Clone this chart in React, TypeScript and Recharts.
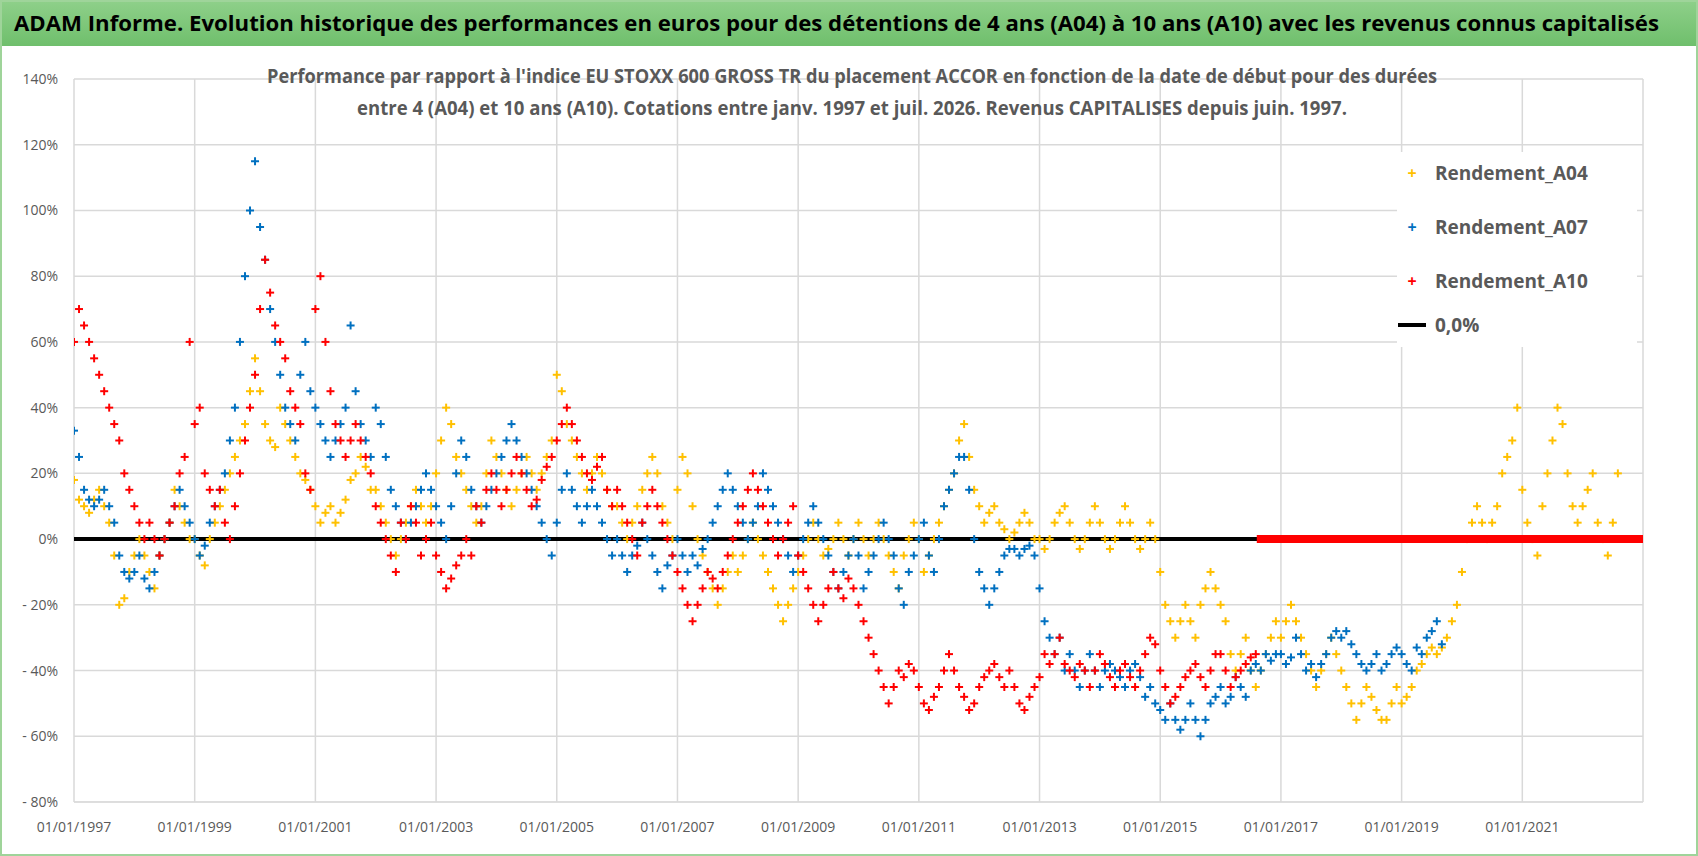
import React from "react";
import {
  ScatterChart,
  Scatter,
  XAxis,
  YAxis,
  CartesianGrid,
  ReferenceLine,
} from "recharts";

const YELLOW = "#ffc000";
const BLUE = "#0070c0";
const RED = "#ff0000";
const GREY = "#595959";

// monthly readings (%) starting Jan 1997
const a04Values = [
  18, 12, 10, 8, 12, 15, 10, 5, -5, -20, -18, -10,
  -5, 0, -5, -10, -15, -5, 0, 5, 15, 10, 5, 0,
  0, -5, -8, 0, 5, 10, 15, 20, 25, 30, 35, 45,
  55, 45, 35, 30, 28, 40, 35, 30, 25, 20, 18, 15,
  10, 5, 8, 10, 5, 8, 12, 18, 20, 25, 22, 15,
  15, 10, 5, 0, -5, 0, 5, 10, 15, 10, 5, 10,
  20, 30, 40, 35, 25, 20, 15, 10, 5, 10, 20, 30,
  25, 20, 15, 10, 15, 20, 25, 20, 15, 20, 25, 30,
  50, 45, 35, 30, 25, 20, 15, 20, 25, 20, 15, 10,
  10, 5, 0, 5, 10, 15, 20, 25, 20, 10, 5, 0,
  15, 25, 20, 10, 0, -5, -10, -15, -20, -15, -10, -5,
  -10, -5, 0, 5, 0, -5, -10, -15, -20, -25, -20, -15,
  -10, -5, 0, 5, 0, -5, -3, 0, 5, 0, -5, 0,
  5, 0, -5, 0, 5, 0, -5, -10, -15, -5, 0, 5,
  0, -10, -5, 0, 5, 10, 15, 20, 30, 35, 25, 15,
  10, 5, 8, 10, 5, 3, 0, 2, 5, 8, 5, 0,
  0, -3, 0, 5, 8, 10, 5, 0, -3, 0, 5, 10,
  5, 0, -3, 0, 5, 10, 5, 0, -3, 0, 5, 0,
  -10, -20, -25, -30, -25, -20, -25, -30, -20, -15, -10, -15,
  -20, -25, -35, -40, -35, -30, -40, -45, -40, -35, -30, -25,
  -30, -25, -20, -25, -30, -35, -40, -45, -40, -35, -30, -35,
  -40, -45, -50, -55, -50, -45, -48, -52, -55, -55, -50, -45,
  -50, -48, -45, -40, -38, -35, -33, -35, -33, -30, -25, -20,
  -10, 0, 5, 10, 5, 0, 5, 10, 20, 25, 30, 40,
  15, 5, 0, -5, 10, 20, 30, 40, 35, 20, 10, 5,
  10, 15, 20, 5, 0, -5, 5, 20,
];

const a07Values = [
  33, 25, 15, 12, 10, 12, 15, 10, 5, -5, -10, -12,
  -10, -5, -12, -15, -10, -5, 0, 5, 10, 15, 10, 5,
  0, -5, -2, 5, 10, 15, 20, 30, 40, 60, 80, 100,
  115, 95, 85, 70, 60, 50, 40, 35, 30, 50, 60, 45,
  40, 35, 30, 25, 30, 35, 40, 65, 45, 35, 30, 25,
  40, 35, 25, 15, 10, 5, 0, 5, 10, 15, 20, 15,
  10, 5, 0, 10, 20, 30, 25, 15, 10, 5, 10, 15,
  20, 25, 30, 35, 30, 25, 20, 15, 10, 5, 0, -5,
  5, 15, 20, 15, 10, 5, 10, 15, 10, 5, 0, -5,
  0, -5, -10, -5, -2, 5, 0, -5, -10, -15, -8, -5,
  0, -5, -10, -5, -8, -3, 0, 5, 10, 15, 20, 15,
  10, 5, 0, 5, 10, 20, 15, 10, 5, 0, -5, -10,
  -5, 0, 5, 10, 5, 0, -5, -10, -15, -10, -5, 0,
  -5, -15, -10, -5, 0, 5, 0, -5, -15, -20, -10, -5,
  0, 5, -5, -10, 0, 10, 15, 20, 25, 25, 15, 0,
  -10, -15, -20, -15, -10, -5, -3, -3, -5, -3, -2, -5,
  -15, -25, -30, -35, -30, -40, -35, -40, -45, -40, -35, -40,
  -45, -40, -38, -40, -42, -45, -40, -38, -42, -48, -45, -50,
  -52, -55, -50, -55, -58, -55, -50, -55, -60, -55, -50, -48,
  -45, -50, -48, -42, -45, -48, -40, -38, -40, -35, -37, -35,
  -35, -38, -36, -30, -35, -40, -38, -42, -38, -35, -30, -28,
  -30, -28, -32, -35, -38, -40, -38, -35, -40, -38, -35, -33,
  -35, -38, -40, -33, -35, -30, -28, -25, -32,
];

const a10Values = [
  60, 70, 65, 60, 55, 50, 45, 40, 35, 30, 20, 15,
  10, 5, 0, 5, 0, -5, 0, 5, 10, 20, 25, 60,
  35, 40, 20, 15, 10, 15, 5, 0, 10, 20, 30, 40,
  50, 70, 85, 75, 65, 60, 55, 45, 40, 35, 20, 15,
  70, 80, 60, 45, 35, 30, 25, 30, 35, 30, 25, 20,
  10, 5, 0, -5, -10, 5, 0, 10, 5, -5, 0, 5,
  -5, -10, -15, -12, -8, -5, 0, -5, 10, 5, 15, 20,
  15, 10, 15, 20, 25, 20, 15, 10, 12, 18, 22, 25,
  30, 35, 40, 35, 30, 25, 20, 18, 22, 25, 15, 10,
  15, 10, 5, 0, -5, 5, 10, 15, 10, 5, 0, -5,
  -10, -15, -20, -25, -20, -15, -10, -12, -15, -10, -5, 0,
  5, 10, 15, 20, 15, 10, 5, 0, -5, 0, 5, 10,
  -5, -10, -15, -20, -25, -20, -15, -10, -15, -18, -12, -15,
  -20, -25, -30, -35, -40, -45, -50, -45, -40, -42, -38, -40,
  -45, -50, -52, -48, -45, -40, -35, -40, -45, -48, -52, -50,
  -45, -42, -40, -38, -42, -45, -40, -45, -50, -52, -48, -45,
  -42, -35, -38, -35, -30, -38, -40, -42, -38, -40, -45, -40,
  -35, -38, -42, -45, -40, -38, -42, -45, -40, -35, -30, -32,
  -40, -45, -50, -48, -45, -42, -40, -38, -42, -45, -40, -35,
  -35, -40, -45, -42, -40, -38, -36, -35,
];

// A10 is pinned at 0 once the 10-year window runs past the last quote
const a10Flat = [
  { x: 2016.6, y: 0 },
  { x: 2023, y: 0 },
];

const START_YEAR = 1997;
const xTicks = [1997, 1999, 2001, 2003, 2005, 2007, 2009, 2011, 2013, 2015, 2017, 2019, 2021];
const yTicks = [-80, -60, -40, -20, 0, 20, 40, 60, 80, 100, 120, 140];

const toPoints = (vals: number[]) => vals.map((v, i) => ({ x: START_YEAR + i / 12, y: v }));

const Cross = (color: string) => (props: any) => {
  const { cx, cy } = props;
  if (cx == null || cy == null) return null;
  return (
    <g stroke={color} strokeWidth={2}>
      <line x1={cx - 4} y1={cy} x2={cx + 4} y2={cy} />
      <line x1={cx} y1={cy - 4} x2={cx} y2={cy + 4} />
    </g>
  );
};

const fmtPct = (v: number) => (v < 0 ? `- ${Math.abs(v)}%` : `${v}%`);

function LegendRow({ color, label, top, line }: { color: string; label: string; top: number; line?: boolean }) {
  return (
    <div style={{ position: "absolute", left: 0, top, display: "flex", alignItems: "center" }}>
      <span style={{ width: 30, display: "inline-flex", justifyContent: "center" }}>
        {line ? (
          <span style={{ display: "inline-block", width: 28, height: 4, background: "#000" }} />
        ) : (
          <span style={{ color, fontSize: 16, fontWeight: 700 }}>+</span>
        )}
      </span>
      <span style={{ marginLeft: 8, color: GREY, fontWeight: 700, fontSize: 19 }}>{label}</span>
    </div>
  );
}

export default function App() {
  return (
    <div
      style={{
        position: "fixed",
        left: 0,
        top: 0,
        width: 1698,
        height: 856,
        background: "#fff",
        fontFamily: "'Open Sans', Arial, sans-serif",
        boxSizing: "border-box",
        border: "2px solid #9fd49a",
        overflow: "hidden",
      }}
    >
      <svg width={1698} height={46} style={{ position: "absolute", left: -2, top: -2 }}>
        <defs>
          <linearGradient id="tg" x1="0" y1="0" x2="0" y2="1">
            <stop offset="0" stopColor="#8fd08a" />
            <stop offset="1" stopColor="#6fbf6c" />
          </linearGradient>
        </defs>
        <rect x={0} y={0} width={1698} height={46} fill="url(#tg)" />
        <text
          x={14}
          y={31}
          fontSize={21}
          fontWeight={700}
          fill="#000"
          textLength={1645}
          lengthAdjust="spacingAndGlyphs"
          fontFamily="'Open Sans', Arial, sans-serif"
        >
          ADAM Informe. Evolution historique des performances en euros pour des détentions de 4 ans (A04) à 10 ans (A10) avec les revenus connus capitalisés
        </text>
      </svg>

      <ScatterChart
        width={1698}
        height={856}
        margin={{ top: 79, right: 55, bottom: 24, left: 0 }}
        style={{ position: "absolute", left: -2, top: -2 }}
      >
        <CartesianGrid stroke="#d9d9d9" strokeWidth={1.5} />
        <XAxis
          type="number"
          dataKey="x"
          domain={[1997, 2023]}
          ticks={xTicks}
          tickFormatter={(v: number) => `01/01/${v}`}
          tick={{ fontSize: 14, fill: GREY }}
          tickLine={false}
          axisLine={{ stroke: "#d9d9d9" }}
          tickMargin={14}
          allowDataOverflow
        />
        <YAxis
          type="number"
          dataKey="y"
          domain={[-80, 140]}
          ticks={yTicks}
          tickFormatter={fmtPct}
          tick={{ fontSize: 14, fill: GREY }}
          tickLine={false}
          axisLine={false}
          width={74}
          tickMargin={10}
        />
        <ReferenceLine y={0} stroke="#000" strokeWidth={4} />
        <Scatter data={toPoints(a04Values)} shape={Cross(YELLOW)} isAnimationActive={false} />
        <Scatter data={toPoints(a07Values)} shape={Cross(BLUE)} isAnimationActive={false} />
        <Scatter data={toPoints(a10Values)} shape={Cross(RED)} isAnimationActive={false} />
        <Scatter
          data={a10Flat}
          line={{ stroke: RED, strokeWidth: 8 }}
          shape={() => null}
          isAnimationActive={false}
        />
      </ScatterChart>

      <svg width={1500} height={80} style={{ position: "absolute", left: 100, top: 62 }}>
        <text x={750} y={19} textAnchor="middle" fontSize={19} fontWeight={700} fill={GREY}
          textLength={1170} lengthAdjust="spacingAndGlyphs" fontFamily="'Open Sans', Arial, sans-serif">
          Performance par rapport à l'indice EU STOXX 600 GROSS TR  du placement ACCOR en fonction de la date de début pour des durées
        </text>
        <text x={750} y={51} textAnchor="middle" fontSize={19} fontWeight={700} fill={GREY}
          textLength={990} lengthAdjust="spacingAndGlyphs" fontFamily="'Open Sans', Arial, sans-serif">
          entre 4 (A04) et 10 ans (A10).  Cotations entre janv. 1997 et juil. 2026. Revenus CAPITALISES  depuis juin. 1997.
        </text>
      </svg>

      <div
        style={{
          position: "absolute",
          left: 1395,
          top: 150,
          width: 240,
          height: 195,
          background: "#fff",
        }}
      >
        <LegendRow color={YELLOW} label="Rendement_A04" top={8} />
        <LegendRow color={BLUE} label="Rendement_A07" top={62} />
        <LegendRow color={RED} label="Rendement_A10" top={116} />
        <LegendRow color="#000" label="0,0%" top={160} line />
      </div>
    </div>
  );
}
